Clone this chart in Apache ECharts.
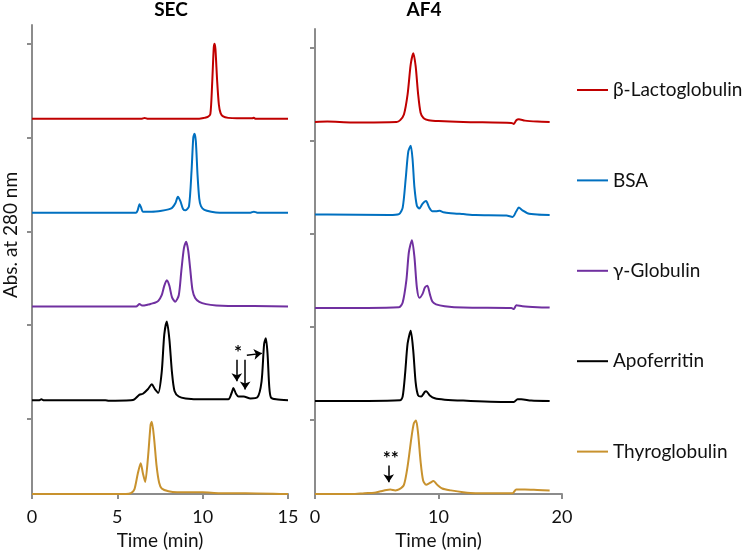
<!DOCTYPE html>
<html>
<head>
<meta charset="utf-8">
<script src="https://cdn.jsdelivr.net/npm/echarts@6/dist/echarts.min.js"></script>
<style>html,body{margin:0;padding:0;background:#fff}#c{width:742px;height:555px}</style>
</head>
<body>
<div id="c"></div>
<script>
// ---- DATA ----
const seriesNames = ['β-Lactoglobulin', 'BSA', 'γ-Globulin', 'Apoferritin', 'Thyroglobulin'];
const seriesColors = ['#C00000', '#0070C0', '#7030A0', '#000000', '#C8922E'];
const traceOffsets = [4, 3, 2, 1, 0];
const panelTitles = ['SEC', 'AF4'];
const secTicks = [0, 5, 10, 15];
const af4Ticks = [0, 10, 20];
const yTickValues = [0.8, 1.8, 2.8, 3.8, 4.8];

// SEC traces [time (min), absorbance]
const secLacto = [[0,0],[6.4,0],[6.6,0.01],[6.8,0],[9.8,0],[10.1,0.01],[10.3,0.02],[10.45,0.05],[10.55,0.35],[10.65,0.76],[10.7,0.8],[10.75,0.74],[10.85,0.4],[10.95,0.15],[11.05,0.06],[11.2,0.025],[11.5,0.01],[12.0,0.005],[12.9,0.005],[13.0,0.012],[13.1,0],[15,0]];
const secBSA = [[0,0],[6.1,0],[6.2,0.03],[6.3,0.09],[6.4,0.05],[6.5,0.01],[7.0,0.01],[7.6,0.02],[8.0,0.035],[8.2,0.05],[8.4,0.1],[8.55,0.17],[8.7,0.12],[8.85,0.04],[9.0,0.025],[9.2,0.07],[9.35,0.45],[9.45,0.8],[9.52,0.84],[9.6,0.76],[9.7,0.4],[9.8,0.15],[9.9,0.07],[10.1,0.03],[10.5,0.01],[11,0],[12.8,0],[13,0.01],[13.2,0],[15,0]];
const secGlob = [[0,0],[6.1,0],[6.3,0.025],[6.45,0.01],[6.8,0.02],[7.0,0.03],[7.2,0.04],[7.4,0.06],[7.6,0.12],[7.75,0.22],[7.9,0.28],[8.05,0.22],[8.2,0.1],[8.39,0.05],[8.6,0.12],[8.75,0.38],[8.9,0.62],[9.03,0.69],[9.15,0.6],[9.27,0.4],[9.4,0.18],[9.56,0.09],[9.8,0.05],[10.2,0.025],[10.8,0.01],[11.5,0.005],[13,0.005],[15,0]];
const secApo = [[0,0],[0.4,0],[0.55,0.01],[0.7,0],[4.3,0],[4.5,-0.005],[5.8,0],[6.0,0.01],[6.3,0.06],[6.5,0.07],[6.8,0.12],[7.02,0.17],[7.2,0.12],[7.4,0.08],[7.6,0.3],[7.75,0.7],[7.9,0.84],[8.05,0.65],[8.2,0.3],[8.35,0.1],[8.6,0.04],[9.0,0.02],[10,0.01],[11.5,0.01],[11.7,0.08],[11.8,0.13],[11.95,0.07],[12.1,0.04],[12.4,0.04],[12.8,0.02],[13.2,0.03],[13.45,0.2],[13.6,0.6],[13.7,0.66],[13.8,0.5],[13.9,0.15],[14.0,0.03],[14.3,0.01],[15,0]];
const secThyro = [[0,0],[5.5,0],[5.8,0.01],[6.0,0.05],[6.2,0.22],[6.37,0.33],[6.5,0.22],[6.63,0.13],[6.8,0.4],[6.95,0.74],[7.02,0.77],[7.15,0.6],[7.3,0.3],[7.45,0.12],[7.6,0.06],[8.0,0.03],[8.5,0.02],[10,0.02],[11,0.01],[12.5,0.01],[15,0]];

// AF4 traces [time (min), absorbance]
const af4Lacto = [[0,0],[1,0.005],[3,-0.005],[6.6,0],[6.9,0.02],[7.2,0.08],[7.5,0.3],[7.75,0.62],[7.96,0.74],[8.15,0.6],[8.35,0.3],[8.55,0.1],[8.8,0.04],[9.2,0.02],[10,0.01],[12,0],[15.9,-0.01],[16.1,-0.02],[16.3,0.02],[16.5,0.03],[17,0.015],[18,0.005],[19,0]];
const af4BSA = [[0,0.005],[1,0.005],[6,0],[6.8,0.01],[7.1,0.08],[7.35,0.4],[7.55,0.68],[7.75,0.745],[7.9,0.6],[8.05,0.3],[8.25,0.1],[8.45,0.07],[8.7,0.12],[8.99,0.15],[9.25,0.08],[9.5,0.04],[9.8,0.04],[10.1,0.045],[10.4,0.03],[11,0.02],[12,0.01],[13,0],[15.5,-0.005],[16.0,-0.02],[16.3,0.04],[16.5,0.08],[16.8,0.05],[17.2,0.02],[18,0.005],[19,0]];
const af4Glob = [[0,0],[6.8,0.01],[7.1,0.06],[7.4,0.3],[7.6,0.6],[7.85,0.73],[8.05,0.55],[8.25,0.22],[8.45,0.11],[8.7,0.15],[8.9,0.22],[9.1,0.24],[9.3,0.15],[9.5,0.07],[9.8,0.04],[10.5,0.02],[12,0.005],[15.9,0],[16.1,-0.01],[16.3,0.03],[16.8,0.02],[18,0.01],[19,0.005]];
const af4Apo = [[0,0],[6.9,0.01],[7.1,0.05],[7.3,0.3],[7.5,0.62],[7.75,0.755],[7.95,0.55],[8.15,0.2],[8.35,0.06],[8.6,0.05],[8.9,0.1],[9.0,0.106],[9.3,0.06],[9.7,0.03],[10.5,0.015],[12,0.005],[15.9,-0.01],[16.1,-0.01],[16.4,0.02],[16.7,0.02],[17.5,0.005],[19,0]];
const af4Thyro = [[0,0],[3,0],[4,0.01],[4.8,0.015],[5.3,0.03],[5.8,0.045],[6.1,0.05],[6.5,0.04],[6.8,0.05],[7.2,0.1],[7.5,0.3],[7.8,0.6],[8.0,0.76],[8.18,0.79],[8.35,0.65],[8.55,0.35],[8.75,0.15],[9.0,0.1],[9.3,0.12],[9.6,0.14],[9.9,0.1],[10.3,0.06],[11,0.04],[12,0.02],[13,0.01],[15.8,0.01],[16.0,0.01],[16.3,0.05],[17,0.05],[18,0.045],[19,0.04]];

const secTraces = [secLacto, secBSA, secGlob, secApo, secThyro];
const af4Traces = [af4Lacto, af4BSA, af4Glob, af4Apo, af4Thyro];

// annotation arrows [[x1,y1],[x2,y2]] in axis values
const secArrows = [[[12.0,1.433],[12.0,1.204]], [[12.49,1.433],[12.49,1.115]], [[12.59,1.48],[13.47,1.50]]];
const secStar = [12.07, 1.50];
const af4Arrows = [[[5.97,0.307],[5.97,0.128]]];
const af4Star = [6.13, 0.38];

// ---- CHART ----
const FONT = 'Lato';
const axisGray = '#8C8C8C';
const chart = echarts.init(document.getElementById('c'), null, {renderer: 'canvas'});

function yAxisCfg(gi) {
  return {
    type: 'value', gridIndex: gi, min: 0, max: 5,
    axisLine: {show: true, lineStyle: {color: axisGray, width: 2}},
    axisTick: {show: true, inside: false, length: 5, lineStyle: {color: axisGray, width: 2}, customValues: yTickValues},
    axisLabel: {show: false},
    splitLine: {show: false}
  };
}
function xAxisCfg(gi, maxV, intv, ticks) {
  return {
    type: 'value', gridIndex: gi, min: 0, max: maxV, interval: intv,
    name: 'Time (min)', nameLocation: 'middle', nameGap: 34,
    nameTextStyle: {fontFamily: FONT, fontSize: 19, color: '#111'},
    axisLine: {show: true, onZero: false, lineStyle: {color: axisGray, width: 2}},
    axisTick: {show: true, length: 5, lineStyle: {color: axisGray, width: 2}},
    axisLabel: {show: true, margin: 14, fontFamily: FONT, fontSize: 18, color: '#111',
      formatter: v => ticks.indexOf(v) >= 0 ? String(v) : ''},
    splitLine: {show: false}
  };
}

const series = [];
function addPanel(traces, gi, arrows, star) {
  traces.forEach((tr, i) => {
    const s = {
      name: seriesNames[i], type: 'line', xAxisIndex: gi, yAxisIndex: gi,
      data: tr.map(p => [p[0], p[1] + traceOffsets[i]]),
      showSymbol: false, symbol: 'none', smooth: 0.25,
      lineStyle: {color: seriesColors[i], width: 2},
      itemStyle: {color: seriesColors[i]},
      emphasis: {disabled: true}, animation: false, z: 3
    };
    if (i === 3 && gi === 0 || i === 4 && gi === 1) {
      s.markLine = {
        silent: true, symbol: ['none', 'arrow'], symbolSize: 8, animation: false,
        lineStyle: {color: '#000', width: 1.5, type: 'solid'}, label: {show: false},
        data: arrows.map(a => [{coord: a[0]}, {coord: a[1]}])
      };
      s.markPoint = {
        silent: true, animation: false, symbol: 'circle', symbolSize: 1,
        itemStyle: {color: 'rgba(0,0,0,0)'},
        label: {show: true, position: 'inside', formatter: gi === 0 ? '*' : '**',
          fontFamily: FONT, fontSize: 19, fontWeight: 'bold', color: '#000'},
        data: [{coord: star}]
      };
    }
    series.push(s);
  });
}
addPanel(secTraces, 0, secArrows, secStar);
addPanel(af4Traces, 1, af4Arrows, af4Star);

chart.setOption({
  backgroundColor: '#fff',
  animation: false,
  title: [
    {text: panelTitles[0], left: 171, top: 0, textAlign: 'center', padding: 0,
     textStyle: {fontFamily: FONT, fontSize: 19, fontWeight: 'bold', color: '#000'}},
    {text: panelTitles[1], left: 424, top: 0, textAlign: 'center', padding: 0,
     textStyle: {fontFamily: FONT, fontSize: 19, fontWeight: 'bold', color: '#000'}}
  ],
  legend: {
    orient: 'vertical', left: 577, top: 80.5, padding: 0, itemGap: 71.4,
    itemWidth: 31, itemHeight: 2, icon: 'rect', selectedMode: false,
    data: seriesNames.map((n, i) => ({name: n, itemStyle: {color: seriesColors[i]}})),
    textStyle: {fontFamily: FONT, fontSize: 19, color: '#111', padding: [0,0,0,0]}
  },
  grid: [
    {left: 32, right: 454, top: 25, bottom: 58, containLabel: false},
    {left: 315, right: 180, top: 29, bottom: 58, containLabel: false}
  ],
  xAxis: [xAxisCfg(0, 15, 5, secTicks), xAxisCfg(1, 20, 10, af4Ticks)],
  yAxis: [yAxisCfg(0), yAxisCfg(1)],
  graphic: [{
    type: 'text', x: 11, y: 235, rotation: Math.PI / 2,
    style: {text: 'Abs. at 280 nm', font: '19px Lato', fill: '#111', align: 'center', verticalAlign: 'middle'}
  }],
  series: series
});
</script>
</body>
</html>
